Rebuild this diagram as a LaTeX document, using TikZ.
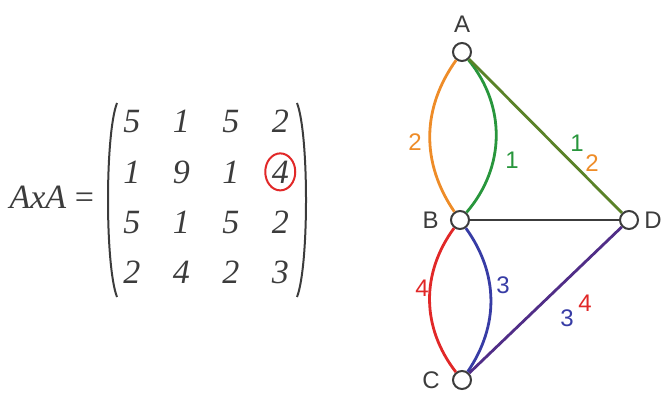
\documentclass[tikz,border=0pt]{standalone}
\usepackage{fontspec}
\setmainfont{Liberation Serif}
\newfontfamily\graphfont{Liberation Sans}
\usetikzlibrary{matrix,positioning}

\definecolor{eorange}{RGB}{238,140,40}
\definecolor{egreen}{RGB}{40,150,60}
\definecolor{eolive}{RGB}{90,130,40}
\definecolor{edark}{RGB}{60,60,60}
\definecolor{ered}{RGB}{225,40,40}
\definecolor{eblue}{RGB}{55,60,165}
\definecolor{epurple}{RGB}{80,45,135}

\tikzset{
    entry/.style={font=\fontsize{17}{20}\selectfont\itshape, text=edark,
        minimum width=14pt, minimum height=20pt, inner sep=0pt},
    paren/.style={line width=1pt, edark},
    vertex/.style={circle, draw=edark, fill=white, line width=1pt,
        minimum size=9pt, inner sep=0pt},
    vname/.style={font=\graphfont\fontsize{12}{14}\selectfont, text=edark, inner sep=1pt},
    weight/.style={font=\graphfont\fontsize{12}{14}\selectfont, inner sep=1pt},
    edge/.style={line width=1.4pt}
}

\begin{document}
\begin{tikzpicture}[x=0.5pt, y=0.5pt]
    \useasboundingbox (0,0) rectangle (662,396);

    % Product matrix AxA
    \matrix (M) at (206,199) [matrix of nodes, nodes={entry},
        column sep=10.75pt, row sep=5pt] {
        5 & 1 & 5 & 2 \\
        1 & 9 & 1 & 4 \\
        5 & 1 & 5 & 2 \\
        2 & 4 & 2 & 3 \\
    };
    \node[font=\fontsize{17}{20}\selectfont, text=edark, anchor=east] (lhs) at (101,199) {\textit{AxA} =};

    % Brackets round the matrix
    \draw[paren] (117,293) .. controls (105,262) and (105,130) .. (117,99);
    \draw[paren] (297,293) .. controls (309,262) and (309,130) .. (297,99);

    % Highlighted entry (row B, column D)
    \draw[ered, line width=1pt] (M-2-4) ellipse [x radius=7.5pt, y radius=9.25pt];

    % Vertices
    \node[vertex] (A) at (462,344) {};
    \node[vertex] (B) at (460,176) {};
    \node[vertex] (D) at (629,176) {};
    \node[vertex] (C) at (462,16) {};

    \node[vname, above=3.5pt of A] (Aname) {A};
    \node[vname, left=4.5pt of B] (Bname) {B};
    \node[vname, right=1.5pt of D] (Dname) {D};
    \node[vname, left=5pt of C] (Cname) {C};

    % Edges
    \draw[edge, eorange] (A) to[bend right=35] (B);
    \draw[edge, egreen] (A) to[bend left=40] (B);
    \draw[edge, eolive] (A) -- (D);
    \draw[edge, edark] (B) -- (D);
    \draw[edge, ered] (B) to[bend right=37] (C);
    \draw[edge, eblue] (B) to[bend left=35] (C);
    \draw[edge, epurple] (C) -- (D);

    % Edge labels
    \node[weight, text=eorange] (wAB1) at (415,254) {2};
    \node[weight, text=egreen] (wAB2) at (512,236) {1};
    \node[weight, text=egreen] (wAD1) at (577,253) {1};
    \node[weight, text=eorange] (wAD2) at (592,233) {2};
    \node[weight, text=ered] (wBC1) at (422,108) {4};
    \node[weight, text=eblue] (wBC2) at (503,111) {3};
    \node[weight, text=eblue] (wCD1) at (567,78) {3};
    \node[weight, text=ered] (wCD2) at (585,93) {4};

\end{tikzpicture}
\end{document}
